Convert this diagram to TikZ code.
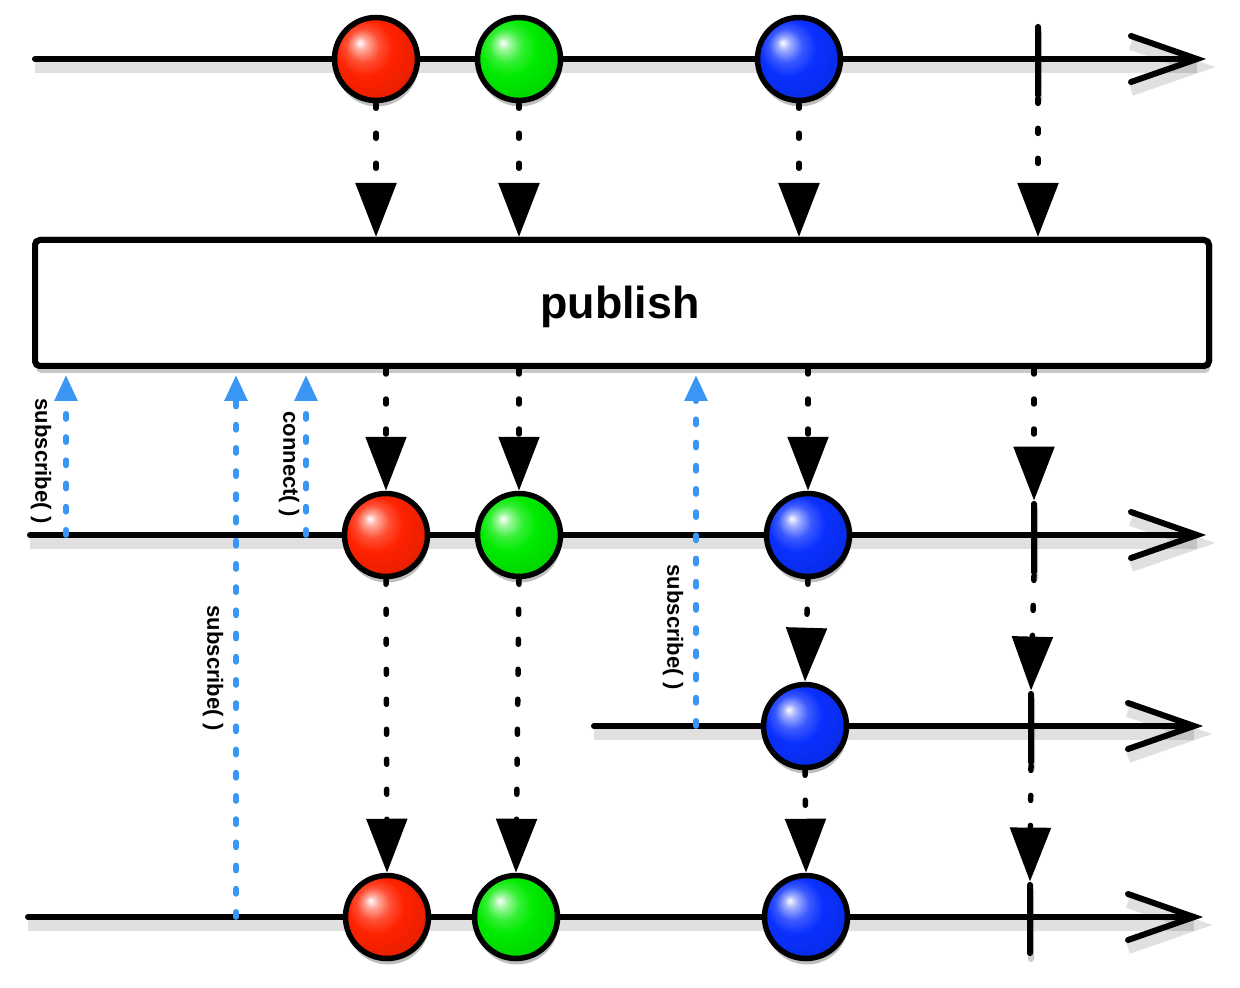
\documentclass[tikz,border=0pt]{standalone}
\usepackage{fontspec}
\setmainfont{Liberation Sans}
\usetikzlibrary{arrows.meta,calc,shadows}
\definecolor{mred}{RGB}{255,34,0}
\definecolor{mgreen}{RGB}{0,235,0}
\definecolor{mblue}{RGB}{10,48,255}
\definecolor{subblue}{RGB}{58,150,245}
\pgfdeclareradialshading{redball}{\pgfpoint{-10bp}{10bp}}{color(0bp)=(white); color(4bp)=(mred!40!white); color(10bp)=(mred!80!white); color(17bp)=(mred); color(30bp)=(mred!90!black); color(38bp)=(mred!60!black); color(50bp)=(black)}
\pgfdeclareradialshading{greenball}{\pgfpoint{-10bp}{10bp}}{color(0bp)=(white); color(4bp)=(mgreen!40!white); color(10bp)=(mgreen!80!white); color(17bp)=(mgreen); color(30bp)=(mgreen!90!black); color(38bp)=(mgreen!60!black); color(50bp)=(black)}
\pgfdeclareradialshading{blueball}{\pgfpoint{-10bp}{10bp}}{color(0bp)=(white); color(4bp)=(mblue!40!white); color(10bp)=(mblue!80!white); color(17bp)=(mblue); color(30bp)=(mblue!90!black); color(38bp)=(mblue!60!black); color(50bp)=(black)}
\begin{document}
\begin{tikzpicture}[x=0.5pt,y=-0.5pt,
  tl/.style={line width=3pt, line cap=round, line join=miter,
    preaction={draw=black, opacity=0.12, line width=6pt, transform canvas={yshift=-4pt}}},
  flow/.style={line width=2.75pt, line cap=round, dash pattern=on 2.5pt off 12.5pt,
    -{Triangle[width=20pt,length=27pt]}},
  sub/.style={draw=subblue, line width=2.8pt, line cap=round, dash pattern=on 2.6pt off 9pt,
    -{Triangle[width=11pt,length=13pt]}, shorten >=3pt},
  marble/.style={circle, draw=black, line width=2.75pt, minimum size=41.5pt, inner sep=0pt, shade,
    drop shadow={fill=black, opacity=0.25, shadow xshift=0.5pt, shadow yshift=-3pt}},
  tick/.style={rectangle, fill=black, minimum width=3pt, minimum height=37pt, inner sep=0pt,
    rounded corners=1.4pt, drop shadow={fill=black, opacity=0.2, shadow xshift=0.5pt, shadow yshift=-3pt}},
  lab/.style={rotate=-90, font=\bfseries\fontsize{11}{13}\selectfont, inner sep=0pt},
  boxstyle/.style={draw=black, line width=3pt, rounded corners=2.5pt, fill=white, inner sep=0pt,
    minimum width=587pt, minimum height=63pt,
    drop shadow={fill=black, opacity=0.22, shadow xshift=0.5pt, shadow yshift=-3.5pt}}
]
\fill[white] (0,0) rectangle (1240,988);
\useasboundingbox (0,0) rectangle (1240,988);

% timeline coordinates
\coordinate (l1s) at (35,59);   \coordinate (l1e) at (1197,59);
\coordinate (l2s) at (30,535);  \coordinate (l2e) at (1197,535);
\coordinate (l3s) at (594,726); \coordinate (l3e) at (1194,726);
\coordinate (l4s) at (28,917);  \coordinate (l4e) at (1194,917);

% timelines
\foreach \s/\e in {l1s/l1e, l2s/l2e, l3s/l3e, l4s/l4e}{
  \draw[tl] (\s) -- (\e);
  \draw[tl] ($(\e)+(-66,-23)$) -- (\e) -- ($(\e)+(-66,23)$);
}

% box
\node[boxstyle] (box) at (622,303) {};

% positions
\path (376,59) coordinate (pr1) (519,59) coordinate (pg1) (799,59) coordinate (pb1) (1038,61) coordinate (pt1)
      (386,535) coordinate (pr2) (519,535) coordinate (pg2) (808,535) coordinate (pb2) (1034,538) coordinate (pt2)
      (805,726) coordinate (pb3) (1031,728) coordinate (pt3)
      (387,917) coordinate (pr4) (516,917) coordinate (pg4) (806,917) coordinate (pb4) (1030,919) coordinate (pt4);

% invisible placeholders for anchors
\foreach \n in {r1,g1,b1,r2,g2,b2,b3,r4,g4,b4}{
  \path (p\n) node[circle, minimum size=41.5pt, line width=2.75pt, inner sep=0pt] (q\n) {};
}
\foreach \n in {t1,t2,t3,t4}{
  \path (p\n) node[rectangle, minimum width=3pt, minimum height=37pt, inner sep=0pt] (q\n) {};
}

% flows into publish
\foreach \n in {r1,g1,b1,t1}{
  \draw[flow] (q\n.south) -- (q\n.south |- box.north);
}
% flows out of publish
\foreach \n in {r2,g2,b2,t2}{
  \draw[flow] (box.south -| q\n) -- (q\n.north);
}
% lower flows
\draw[flow] (qr2.south) -- (qr4.north);
\draw[flow] (qg2.south) -- (qg4.north);
\draw[flow] (qb2.south) -- (qb3.north);
\draw[flow] (qt2.south) -- (qt3.north);
\draw[flow] (qb3.south) -- (qb4.north);
\draw[flow] (qt3.south) -- (qt4.north);

% redraw box on top of flow stubs
\node[draw=black, line width=3pt, rounded corners=2.5pt, fill=white, inner sep=0pt,
    minimum width=587pt, minimum height=63pt] (boxtop) at (box) {};
\node[font=\bfseries\fontsize{22.4}{26}\selectfont, inner sep=0pt] (pubtxt) at (620,307) {publish};

% subscribe / connect arrows
\coordinate (s1) at (66,535);
\coordinate (cn) at (306,535);
\coordinate (s2) at (236,917);
\coordinate (s3) at (696,726);
\draw[sub] (s1) -- (s1 |- box.south);
\draw[sub] (cn) -- (cn |- box.south);
\draw[sub] (s2) -- (s2 |- box.south);
\draw[sub] (s3) -- (s3 |- box.south);

\node[lab] (ls1) at (41,461) {subscribe( )};
\node[lab] (lcn) at (289,464) {connect( )};
\node[lab] (ls2) at (213,668) {subscribe( )};
\node[lab] (ls3) at (673,627) {subscribe( )};

% marbles
\node[marble, shading=redball]   (r1) at (pr1) {};
\node[marble, shading=greenball] (g1) at (pg1) {};
\node[marble, shading=blueball]  (b1) at (pb1) {};
\node[marble, shading=redball]   (r2) at (pr2) {};
\node[marble, shading=greenball] (g2) at (pg2) {};
\node[marble, shading=blueball]  (b2) at (pb2) {};
\node[marble, shading=blueball]  (b3) at (pb3) {};
\node[marble, shading=redball]   (r4) at (pr4) {};
\node[marble, shading=greenball] (g4) at (pg4) {};
\node[marble, shading=blueball]  (b4) at (pb4) {};

% completion ticks
\node[tick] (t1) at (pt1) {};
\node[tick] (t2) at (pt2) {};
\node[tick] (t3) at (pt3) {};
\node[tick] (t4) at (pt4) {};
\end{tikzpicture}
\end{document}
